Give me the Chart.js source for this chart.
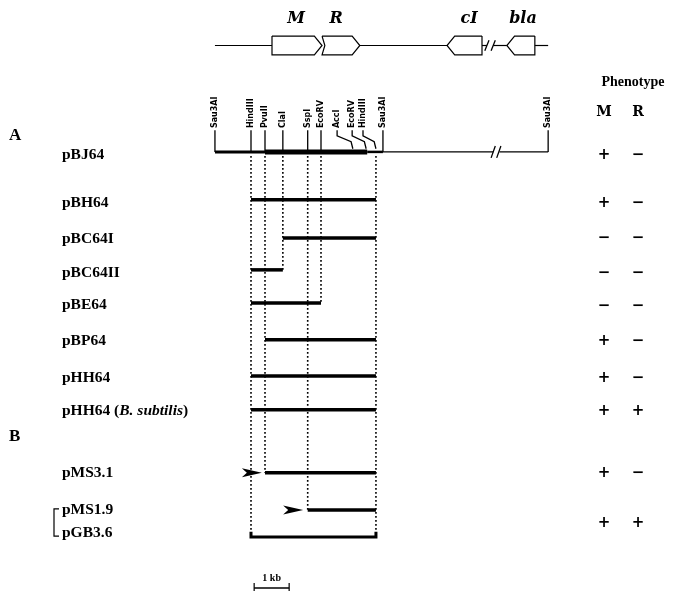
<!DOCTYPE html>
<html>
<head>
<meta charset="utf-8">
<script src="https://cdn.jsdelivr.net/npm/chart.js@4/dist/chart.umd.min.js"></script>
<style>html,body{margin:0;background:#fff}</style>
</head>
<body>
<canvas id="mapChart" width="675" height="591"></canvas>
<script>
// x in kb (0 = left HindIII site), y in lane units (1 unit = 1/35 of the height scale)
const constructs = ["pBJ64", "pBH64", "pBC64I", "pBC64II", "pBE64", "pBP64", "pHH64", "pHH64", "pMS3.1", "pMS1.9", "pGB3.6"];
const laneY = [4.34, 5.71, 6.8, 7.71, 8.66, 9.71, 10.74, 11.71, 13.51, 14.57, 15.34];
const labelY = [4.43, 5.8, 6.83, 7.8, 8.71, 9.74, 10.8, 11.74, 13.51, 14.57, 15.23];
const fragStart = [null, 0, 0.91, 0, 0, 0.4, 0, 0, 0.4, 1.62, 0];
const fragEnd = [null, 3.57, 3.57, 0.91, 2.0, 3.57, 3.57, 3.57, 3.57, 3.57, 3.57];

// phenotype rows (pMS1.9 / pGB3.6 share one row)
const phenoY = [4.43, 5.8, 6.8, 7.8, 8.74, 9.74, 10.8, 11.74, 13.51, 14.94];
const phenoM = ["+", "+", "−", "−", "−", "+", "+", "+", "+", "+"];
const phenoR = ["−", "−", "−", "−", "−", "−", "−", "+", "−", "+"];

// restriction sites on pBJ64
const siteNames = ["Sau3AI", "HindIII", "PvuII", "ClaI", "SspI", "EcoRV", "AccI", "EcoRV", "HindIII", "Sau3AI", "Sau3AI"];
const siteKb = [-1.03, 0, 0.4, 0.91, 1.62, 2.0, 2.91, 3.29, 3.57, 3.77, 8.49];
const siteLabelKb = [-1.03, 0, 0.4, 0.91, 1.62, 2.0, 2.46, 2.89, 3.2, 3.77, 8.49];

// dotted guides: site position and the lane they run down to
const guideKb = [0, 0.4, 0.91, 1.62, 2.0, 3.57];
const guideEnd = [15.34, 13.51, 7.71, 14.57, 8.66, 15.34];

// arrows (tip position, lane)
const arrowKb = [0.31, 1.49];
const arrowLane = [13.51, 14.57];

// gene map on top
const genes = ["M", "R", "cI", "bla"];
const geneFrom = [0.6, 2.03, 5.6, 7.31];
const geneTo = [2.03, 3.11, 6.6, 8.11];
const geneDir = [1, 1, -1, -1];
const mapLane = 1.3;

const tip = 0.22, half = 0.27;
function genePoly(i) {
  const a = geneFrom[i], b = geneTo[i], t = mapLane - half, m = mapLane, u = mapLane + half;
  if (geneDir[i] > 0) {
    const notch = i === 1 ? 0.08 : 0;
    return [{x: a, y: t}, {x: b - tip, y: t}, {x: b, y: m}, {x: b - tip, y: u}, {x: a, y: u}, {x: a + notch, y: m}, {x: a, y: t}];
  }
  return [{x: b, y: t}, {x: a + tip, y: t}, {x: a, y: m}, {x: a + tip, y: u}, {x: b, y: u}, {x: b, y: t}];
}

const ds = [];
function seg(pts, w, dash) {
  ds.push({data: pts, borderColor: "#000", borderWidth: w, borderDash: dash || [], pointRadius: 0, showLine: true, fill: false, tension: 0});
}

// gene map backbone
seg([{x: -1.03, y: mapLane}, {x: 0.6, y: mapLane}], 1.2);
seg([{x: 3.11, y: mapLane}, {x: 5.6, y: mapLane}], 1.2);
seg([{x: 6.6, y: mapLane}, {x: 6.74, y: mapLane}], 1.2);
seg([{x: 6.92, y: mapLane}, {x: 7.31, y: mapLane}], 1.2);
seg([{x: 8.11, y: mapLane}, {x: 8.49, y: mapLane}], 1.2);
seg([{x: 6.68, y: mapLane + 0.15}, {x: 6.8, y: mapLane - 0.15}], 1.3);
seg([{x: 6.86, y: mapLane + 0.15}, {x: 6.98, y: mapLane - 0.15}], 1.3);
genes.forEach((g, i) => seg(genePoly(i), 1.2));

// pBJ64 map
const L0 = laneY[0];
seg([{x: -1.03, y: L0}, {x: 0.4, y: L0}], 3);
seg([{x: 0.4, y: L0}, {x: 3.32, y: L0}], 5);
seg([{x: 3.32, y: L0}, {x: 3.77, y: L0}], 2.5);
seg([{x: 3.77, y: L0}, {x: 6.92, y: L0}], 1.4);
seg([{x: 7.1, y: L0}, {x: 8.49, y: L0}], 1.4);
seg([{x: 6.86, y: L0 + 0.17}, {x: 6.98, y: L0 - 0.17}], 1.3);
seg([{x: 7.02, y: L0 + 0.17}, {x: 7.14, y: L0 - 0.17}], 1.3);

// site ticks with leaders
siteKb.forEach((s, i) => {
  const lx = siteLabelKb[i];
  if (lx === s) {
    seg([{x: s, y: 3.72}, {x: s, y: L0}], 1.3);
  } else {
    seg([{x: lx, y: 3.72}, {x: lx, y: 3.88}, {x: s - 0.05, y: 4.05}, {x: s, y: 4.25}], 1.3);
  }
});

// dotted guides
guideKb.forEach((g, i) => seg([{x: g, y: L0 + 0.12}, {x: g, y: guideEnd[i]}], 1.6, [1.6, 2.4]));

// fragments
for (let i = 1; i < constructs.length; i++) {
  if (i === 10) {
    seg([{x: fragStart[i], y: laneY[i] - 0.15}, {x: fragStart[i], y: laneY[i]}, {x: fragEnd[i], y: laneY[i]}, {x: fragEnd[i], y: laneY[i] - 0.15}], 3);
  } else {
    seg([{x: fragStart[i], y: laneY[i]}, {x: fragEnd[i], y: laneY[i]}], 3.5);
  }
}

// scale bar 1 kb
seg([{x: 0.09, y: 16.8}, {x: 1.09, y: 16.8}], 1.4);
seg([{x: 0.09, y: 16.66}, {x: 0.09, y: 16.94}], 1.2);
seg([{x: 1.09, y: 16.66}, {x: 1.09, y: 16.94}], 1.2);

const textPlugin = {
  id: "mapText",
  beforeDraw(chart) {
    const c = chart.ctx;
    c.save();
    c.fillStyle = "#fff";
    c.fillRect(0, 0, chart.width, chart.height);
    c.restore();
  },
  afterDatasetsDraw(chart) {
    const c = chart.ctx;
    const X = v => chart.scales.x.getPixelForValue(v);
    const Y = v => chart.scales.y.getPixelForValue(v);
    c.save();
    c.fillStyle = "#000";
    c.strokeStyle = "#000";
    c.textBaseline = "middle";

    // gene names
    c.textAlign = "center";
    c.font = "italic bold 16px 'DejaVu Serif'";
    const geneLabelKb = [1.29, 2.43, 6.23, 7.77];
    genes.forEach((g, i) => c.fillText(g, X(geneLabelKb[i]), 19));

    // section letters
    c.textAlign = "left";
    c.font = "bold 17px 'Liberation Serif'";
    c.fillText("A", 9, 136);
    c.fillText("B", 9, 437);

    // construct labels
    const f = "bold 15.5px 'Liberation Serif'";
    c.font = f;
    constructs.forEach((n, i) => {
      const y = Y(labelY[i]);
      if (i === 7) {
        let x = 62;
        c.font = f;
        c.fillText("pHH64 (", x, y); x += c.measureText("pHH64 (").width;
        c.font = "italic " + f;
        c.fillText("B. subtilis", x, y); x += c.measureText("B. subtilis").width;
        c.font = f;
        c.fillText(")", x, y);
      } else {
        c.fillText(n, 62, y);
      }
    });
    // bracket for pMS1.9 / pGB3.6
    c.lineWidth = 1.2;
    c.beginPath();
    c.moveTo(59, Y(labelY[9]) - 1);
    c.lineTo(54, Y(labelY[9]) - 1);
    c.lineTo(54, Y(labelY[10]) + 3);
    c.lineTo(59, Y(labelY[10]) + 3);
    c.stroke();

    // site labels, rotated
    c.font = "bold 8px 'DejaVu Sans'";
    c.textAlign = "left";
    siteNames.forEach((s, i) => {
      c.save();
      c.translate(X(siteLabelKb[i]), Y(3.66));
      c.rotate(-Math.PI / 2);
      c.fillText(s, 0, 0);
      c.restore();
    });

    // arrows
    arrowKb.forEach((a, i) => {
      const x = X(a), y = Y(arrowLane[i]);
      c.beginPath();
      c.moveTo(x, y);
      c.lineTo(x - 20, y - 4.5);
      c.lineTo(x - 15, y);
      c.lineTo(x - 20, y + 4.5);
      c.closePath();
      c.fill();
    });

    // phenotype table
    c.textAlign = "center";
    c.font = "bold 14px 'Liberation Serif'";
    c.fillText("Phenotype", 633, 82);
    c.font = "900 14px 'DejaVu Serif'";
    c.fillText("M", 604, 112);
    c.fillText("R", 638, 112);
    c.font = "bold 15px 'DejaVu Sans'";
    phenoY.forEach((p, i) => {
      c.fillText(phenoM[i], 604, Y(p));
      c.fillText(phenoR[i], 638, Y(p));
    });

    // scale label
    c.font = "bold 10px 'Liberation Serif'";
    c.fillText("1 kb", X(0.59), 578);
    c.restore();
  }
};

new Chart(document.getElementById("mapChart").getContext("2d"), {
  type: "scatter",
  data: {datasets: ds},
  options: {
    responsive: false,
    animation: false,
    events: [],
    layout: {padding: 0},
    plugins: {legend: {display: false}, tooltip: {enabled: false}},
    scales: {
      x: {type: "linear", display: false, min: -251 / 35, max: 424 / 35},
      y: {type: "linear", display: false, reverse: true, min: 0, max: 591 / 35}
    }
  },
  plugins: [textPlugin]
});
</script>
</body>
</html>
